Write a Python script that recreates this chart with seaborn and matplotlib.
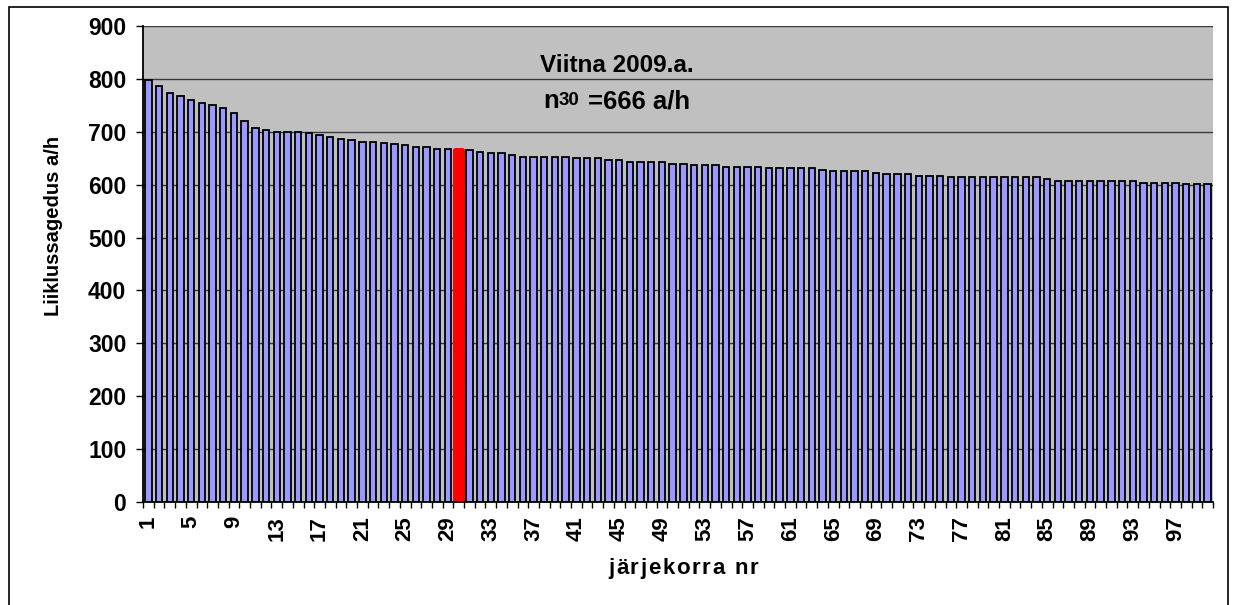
import numpy as np
import pandas as pd
import matplotlib
matplotlib.use("Agg")
import matplotlib.pyplot as plt
import seaborn as sns
from matplotlib.patches import Rectangle
from matplotlib.font_manager import FontProperties, findfont
from matplotlib.ft2font import FT2Font

# ---------------- data ----------------
ranks = list(range(1, 101))
values = [797, 787, 773, 767, 761, 754, 751, 745, 736, 721,
          707, 703, 700, 700, 700, 697, 693, 690, 687, 684,
          681, 681, 678, 677, 675, 672, 671, 668, 667, 666,
          665, 662, 659, 659, 656, 652, 652, 652, 652, 652,
          650, 650, 650, 647, 646, 643, 643, 643, 643, 640,
          640, 637, 637, 637, 633, 633, 633, 633, 631, 631,
          631, 631, 631, 627, 626, 626, 626, 626, 623, 620,
          620, 620, 617, 617, 617, 614, 614, 614, 614, 614,
          614, 614, 614, 614, 610, 607, 607, 607, 607, 607,
          607, 607, 607, 604, 604, 604, 604, 601, 601, 601]
highlight_rank = 30
tick_labels = [str(r) for r in ranks[::4]]
y_ticks = list(range(0, 1000, 100))
title_line1 = "Viitna 2009.a."
n_label, n_sub, n_value = "n", "30", "=666 a/h"
x_label = "järjekorra nr"
y_label = "Liiklussagedus a/h"

# ---------------- style ----------------
plt.rcParams['font.family'] = ['Liberation Sans', 'DejaVu Sans']
plt.rcParams['font.weight'] = 'bold'

W, H = 1234, 605
fig = plt.figure(figsize=(W / 100, H / 100), dpi=100)
fig.patch.set_facecolor('white')
ax = fig.add_axes([143 / W, 1 - 502 / H, (1213 - 143) / W, (502 - 26) / H])

df = pd.DataFrame({
    'rank': ranks,
    'value': values,
    'group': ['n30' if r == highlight_rank else 'muu' for r in ranks],
})
sns.barplot(data=df, x='rank', y='value', hue='group',
            palette={'muu': '#9999FF', 'n30': '#FF0000'},
            dodge=False, legend=False, width=0.6, saturation=1,
            edgecolor='black', linewidth=1.3, ax=ax, zorder=3)

for p in ax.patches:
    fc = p.get_facecolor()
    if fc[0] > 0.9 and fc[1] < 0.1 and fc[2] < 0.1:
        p.set_edgecolor('#FF0000')
        p.set_linewidth(3.6)
        p.set_joinstyle('round')

ax.set_xlim(-0.5, len(ranks) - 0.5)
ax.set_ylim(0, 900)
ax.set_facecolor('#C0C0C0')
ax.set_yticks(y_ticks)
ax.set_yticklabels([str(v) for v in y_ticks], fontsize=16.5, fontweight='bold')
ax.yaxis.grid(True, color='#3a3a3a', linewidth=1.0, zorder=1)
ax.xaxis.grid(False)
ax.set_axisbelow(True)

ax.set_xticks(np.arange(0, len(ranks), 4))
ax.set_xticklabels(tick_labels, rotation=90, fontsize=16, fontweight='bold')
ax.set_xticks(np.arange(-0.5, len(ranks), 1), minor=True)
ax.tick_params(axis='x', which='major', length=0, pad=10, bottom=True)
ax.tick_params(axis='x', which='minor', length=4, width=1, color='black',
               direction='out', bottom=True)
ax.tick_params(axis='y', length=5, width=1, color='black', direction='out',
               pad=7, left=True)

for s in ['top', 'right']:
    ax.spines[s].set_visible(False)
for s in ['left', 'bottom']:
    ax.spines[s].set_color('black')
    ax.spines[s].set_linewidth(1.3)
    ax.spines[s].set_zorder(5)

ax.set_xlabel('')
ax.set_ylabel(y_label, fontsize=14.5, fontweight='bold')
ax.yaxis.set_label_coords((54 - 143) / (1213 - 143), (502 - 226) / (502 - 26))
ax.yaxis.label.set_verticalalignment('center')


def fx(px):
    return px / W


def fy(py):
    return 1 - py / H


# spaced x label
def spaced_text(s, cx, base_y, size, spacing_px):
    fp = FontProperties(family='Liberation Sans', weight='bold', size=size)
    font = FT2Font(findfont(fp), hinting_factor=1)
    font.set_size(size, 100)
    adv = [font.load_char(ord(c)).linearHoriAdvance / 65536 for c in s]
    total = sum(adv) + spacing_px * (len(s) - 1)
    x = cx - total / 2
    for c, a in zip(s, adv):
        fig.text(fx(x), fy(base_y), c, fontsize=size, fontweight='bold',
                 family=['Liberation Sans', 'DejaVu Sans'],
                 ha='left', va='baseline')
        x += a + spacing_px


spaced_text(x_label, 683, 574, 16, 1.8)

# annotation text inside the plot
fig.text(fx(617), fy(72), title_line1, fontsize=17.5, fontweight='bold',
         ha='center', va='baseline')
fig.text(fx(543), fy(108.5), n_label, fontsize=18.5, fontweight='bold',
         ha='left', va='baseline')
fig.text(fx(559), fy(105), n_sub, fontsize=13.5, fontweight='bold',
         ha='left', va='baseline')
fig.text(fx(588), fy(108.5), n_value, fontsize=18.5, fontweight='bold',
         ha='left', va='baseline')

# outer chart frame
frame = Rectangle((fx(9), -0.05), fx(1228) - fx(9), fy(7) + 0.05,
                  transform=fig.transFigure, fill=False, edgecolor='black',
                  linewidth=1.2, clip_on=False)
fig.add_artist(frame)

fig.savefig('out.png', dpi=100)
